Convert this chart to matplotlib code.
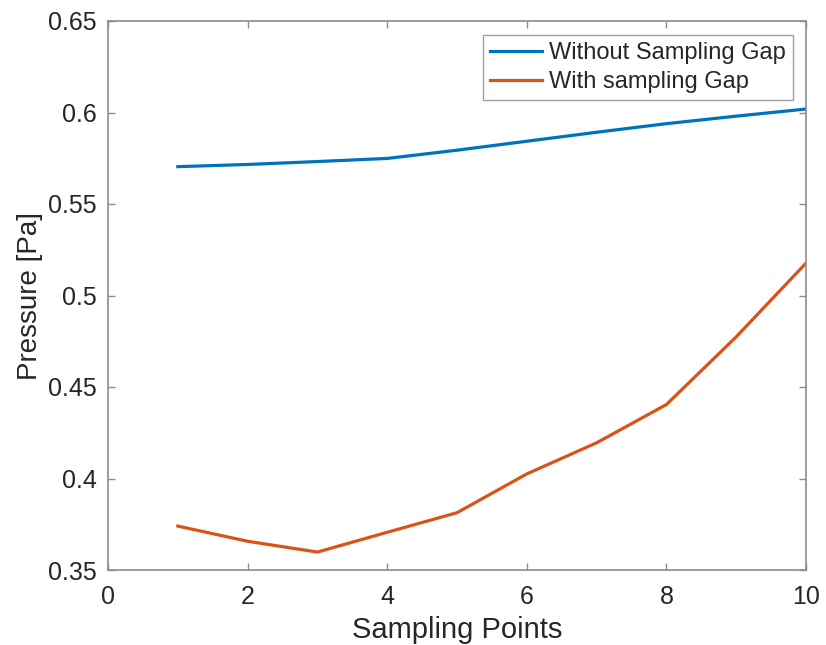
import matplotlib
matplotlib.use("Agg")
import matplotlib.pyplot as plt

# Pressure at each sampling point
sampling_points = [1, 2, 3, 4, 5, 6, 7, 8, 9, 10]
without_gap = [0.5704, 0.5716, 0.5732, 0.5749, 0.5794, 0.5843, 0.5892, 0.5939, 0.5980, 0.6019]
with_gap = [0.3740, 0.3657, 0.3598, 0.3706, 0.3813, 0.4025, 0.4195, 0.4404, 0.4774, 0.5177]

series_labels = ["Without Sampling Gap", "With sampling Gap"]
x_ticks = [0, 2, 4, 6, 8, 10]
y_ticks = [0.35, 0.4, 0.45, 0.5, 0.55, 0.6, 0.65]
y_tick_labels = ["0.35", "0.4", "0.45", "0.5", "0.55", "0.6", "0.65"]

plt.rcParams["font.family"] = ["Liberation Sans", "DejaVu Sans"]
text_color = "#262626"
axis_color = "#8c8c8c"

W, H = 826, 645
fig = plt.figure(figsize=(W / 100, H / 100), dpi=100)
left, right, top, bottom = 108, 806, 21, 570
ax = fig.add_axes([left / W, (H - bottom) / H, (right - left) / W, (bottom - top) / H])

ax.plot(sampling_points, without_gap, color="#0072BD", lw=2.3, label=series_labels[0])
ax.plot(sampling_points, with_gap, color="#D95319", lw=2.3, label=series_labels[1])

ax.set_xlim(0, 10)
ax.set_ylim(0.35, 0.65)
ax.set_xticks(x_ticks)
ax.set_xticklabels([str(t) for t in x_ticks])
ax.set_yticks(y_ticks)
ax.set_yticklabels(y_tick_labels)

for s in ax.spines.values():
    s.set_color(axis_color)
    s.set_linewidth(1.2)
ax.tick_params(direction="in", length=5, width=1.0, color=axis_color,
               top=True, right=True, labelsize=18, labelcolor=text_color)
ax.tick_params(axis="x", pad=11)
ax.tick_params(axis="y", pad=8)

ax.set_xlabel("Sampling Points", fontsize=21, color=text_color, labelpad=5)
ax.set_ylabel("Pressure [Pa]", fontsize=20, color=text_color, labelpad=4)

leg = ax.legend(loc="upper right", bbox_to_anchor=(0.981, 0.975), fontsize=17,
                frameon=True, fancybox=False, handlelength=2.2, handletextpad=0.3,
                borderpad=0.3, labelspacing=0.3, borderaxespad=0)
leg.get_frame().set_edgecolor("#8c8c8c")
leg.get_frame().set_linewidth(1.0)
for t in leg.get_texts():
    t.set_color(text_color)

fig.savefig("out.png", dpi=100)
